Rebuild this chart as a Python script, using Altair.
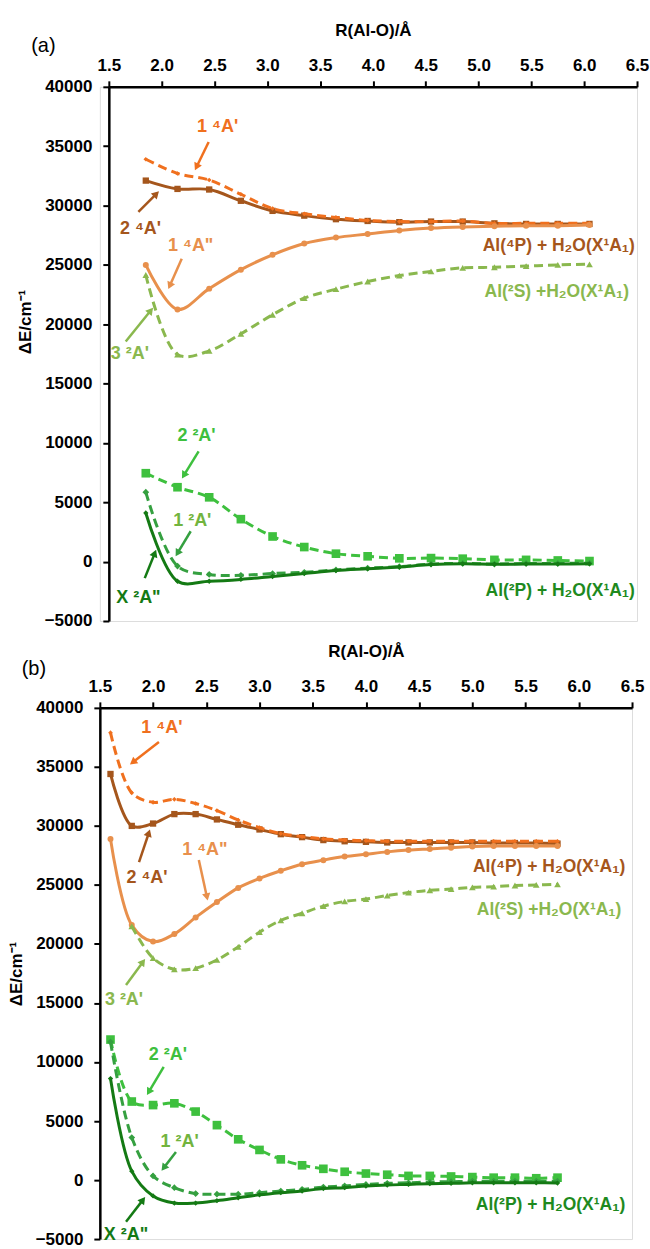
import math
import altair as alt
import pandas as pd

FONT = "Liberation Sans"

# ---------------- data: panel (a) ----------------
R_a = [1.85, 2.15, 2.45, 2.75, 3.05, 3.35, 3.65, 3.95, 4.25, 4.55, 4.85, 5.15, 5.45, 5.75, 6.05]
a_1_4Ap = [33900, 32700, 32150, 30950, 29750, 29300, 29000, 28750, 28650, 28650, 28700, 28500, 28500, 28500, 28500]
a_2_4Ap = [32100, 31400, 31350, 30400, 29550, 29150, 28850, 28700, 28600, 28650, 28650, 28500, 28450, 28450, 28450]
a_1_4App = [25000, 21250, 23000, 24600, 25850, 26800, 27300, 27600, 27900, 28100, 28200, 28250, 28300, 28300, 28350]
a_3_2Ap = [24150, 17450, 17750, 19200, 20800, 22200, 22950, 23600, 24100, 24450, 24750, 24800, 24900, 25000, 25050]
a_2_2Ap = [7450, 6270, 5420, 3580, 2120, 1230, 670, 450, 280, 300, 250, 150, 150, 100, 50]
a_1_2Ap = [5850, -370, -1080, -1150, -1000, -900, -700, -550, -420, -200, -150, -200, -150, -150, -120]
a_X_2App = [4100, -1650, -1650, -1500, -1250, -1000, -750, -600, -450, -250, -180, -220, -200, -200, -180]

# ---------------- data: panel (b) ----------------
R_b = [1.6, 1.8, 2.0, 2.2, 2.4, 2.6, 2.8, 3.0, 3.2, 3.4, 3.6, 3.8, 4.0, 4.2, 4.4, 4.6, 4.8, 5.0, 5.2, 5.4, 5.6, 5.8]
R_b_3_2Ap = [1.8, 2.0, 2.2, 2.4, 2.6, 2.8, 3.0, 3.2, 3.4, 3.6, 3.8, 4.0, 4.2, 4.4, 4.6, 4.8, 5.0, 5.2, 5.4, 5.6, 5.8]
b_1_4Ap = [37900, 32800, 32000, 32250, 31900, 31300, 30500, 29850, 29350, 29100, 28900, 28800, 28750, 28700, 28700, 28700, 28700, 28700, 28700, 28700, 28700, 28700]
b_2_4Ap = [34400, 30000, 30200, 31000, 31000, 30550, 30100, 29700, 29300, 29050, 28800, 28700, 28650, 28600, 28600, 28600, 28600, 28600, 28550, 28550, 28550, 28500]
b_1_4App = [28900, 21600, 20200, 20850, 22250, 23550, 24750, 25550, 26200, 26750, 27100, 27400, 27600, 27800, 27950, 28050, 28150, 28250, 28300, 28300, 28300, 28300]
b_3_2Ap = [21500, 18800, 17850, 17950, 18650, 19750, 21000, 22000, 22600, 23200, 23600, 23800, 24100, 24350, 24550, 24650, 24800, 24850, 24950, 25000, 25050]
b_2_2Ap = [11900, 6650, 6350, 6500, 5800, 4650, 3450, 2550, 1750, 1250, 950, 700, 550, 450, 350, 350, 300, 250, 200, 200, 150, 200]
b_1_2Ap = [11700, 3600, 350, -650, -1150, -1200, -1200, -1070, -930, -790, -600, -500, -370, -280, -230, -170, -140, -100, -100, -100, -100, -100]
b_X_2App = [8600, 750, -1350, -1950, -1950, -1750, -1500, -1250, -1070, -930, -720, -650, -510, -420, -370, -310, -280, -240, -230, -230, -230, -260]

X_TICKS = [1.5, 2.0, 2.5, 3.0, 3.5, 4.0, 4.5, 5.0, 5.5, 6.0, 6.5]
Y_TICKS = [-5000, 0, 5000, 10000, 15000, 20000, 25000, 30000, 35000, 40000]

# state labels (text, x, y) and arrows (x1, y1, x2, y2) in data units
a_lab_text = ["1 ⁴A'", "2 ⁴A'", "1 ⁴A\"", "3 ²A'", "2 ²A'", "1 ²A'", "X ²A\""]
a_lab_x = [2.53, 1.80, 2.275, 1.70, 2.33, 2.29, 1.78]
a_lab_y = [36600, 28000, 26600, 17500, 10550, 3400, -3100]
a_arr_x1 = [2.445, 1.78, 2.19, 1.66, 2.35, 2.275, 1.84]
a_arr_y1 = [35350, 29470, 25510, 18540, 9290, 2560, -1390]
a_arr_x2 = [2.33, 1.95, 2.077, 1.897, 2.21, 2.15, 1.935]
a_arr_y2 = [33250, 30980, 23240, 21150, 7270, 710, 710]
a_asym_text = ["Al(⁴P) + H₂O(X¹A₁)", "Al(²S) +H₂O(X¹A₁)", "Al(²P) + H₂O(X¹A₁)"]
a_asym_x = [6.48, 6.425, 6.48]
a_asym_y = [26600, 22750, -2450]

b_lab_text = ["1 ⁴A'", "2 ⁴A'", "1 ⁴A\"", "3 ²A'", "2 ²A'", "1 ²A'", "X ²A\""]
b_lab_x = [2.083, 1.943, 2.487, 1.727, 2.14, 2.25, 1.746]
b_lab_y = [38280, 25590, 27960, 15260, 10600, 3230, -4640]
b_arr_x1 = [2.055, 1.868, 2.43, 1.746, 2.10, 2.215, 1.746]
b_arr_y1 = [37100, 26940, 27110, 16530, 9580, 2380, -3540]
b_arr_x2 = [1.81, 1.96, 2.506, 1.905, 1.96, 2.10, 1.905]
b_arr_y2 = [35400, 29400, 23980, 18480, 7460, 1030, -1680]
b_asym_text = ["Al(⁴P) + H₂O(X¹A₁)", "Al(²S) +H₂O(X¹A₁)", "Al(²P) + H₂O(X¹A₁)"]
b_asym_x = [6.436, 6.40, 6.436]
b_asym_y = [26520, 22880, -2100]

tag_text = ["(a)", "(b)"]
tag_x = [0.88, 0.88]
tag_y = [43400, 43300]

# ---------------- styles ----------------
STYLE = {
    "1 ⁴A'":  dict(color="#F0701E", dash=True,  shape="diamond", size=22, label="#F0701E"),
    "2 ⁴A'":  dict(color="#A5561C", dash=False, shape="square",  size=40, label="#A5561C"),
    "1 ⁴A\"": dict(color="#E8904C", dash=False, shape="circle",  size=36, label="#E8904C"),
    "3 ²A'":  dict(color="#8AB84E", dash=True,  shape="triangle-up", size=45, label="#8AB84E"),
    "2 ²A'":  dict(color="#3EC03E", dash=True,  shape="square",  size=75, label="#3EC03E"),
    "1 ²A'":  dict(color="#35A040", dash=True,  shape="diamond", size=45, label="#72B43E"),
    "X ²A\"": dict(color="#147A14", dash=False, shape="diamond", size=28, label="#147A14"),
}
ASYM_COLORS = ["#A5561C", "#8AB84E", "#1E8A1E"]


def make_panel(idx, series, lab, arrows, asym, plot_w, plot_h, shift, title_y=None):
    sx = plot_w / 5.0
    sy = plot_h / 45000.0
    xs = alt.Scale(domain=[1.5, 6.5], range=[shift, shift + plot_w], nice=False, zero=False)
    ys = alt.Scale(domain=[-5000, 40000], nice=False, zero=False)
    xaxis = alt.Axis(orient="top", values=X_TICKS, format=".1f", title="R(Al-O)/Å",
                     grid=False, labelFont=FONT, labelFontSize=17, labelFontWeight="bold",
                     labelColor="black", titleFont=FONT, titleFontSize=17, titleFontWeight="bold",
                     titleColor="black", domainColor="black", domainWidth=2.5, tickColor="black",
                     tickWidth=2, tickSize=6, labelPadding=6, titlePadding=17, labelFlush=False)
    ykw = dict(values=Y_TICKS, format="d", title="ΔE/cm⁻¹", grid=False, offset=-shift,
               labelFont=FONT, labelFontSize=17, labelFontWeight="bold", labelColor="black",
               titleFont=FONT, titleFontSize=17, titleFontWeight="bold", titleColor="black",
               domainColor="black", domainWidth=2.5, tickColor="black", tickWidth=2,
               tickSize=6, labelPadding=11, titlePadding=10)
    if title_y is not None:
        ykw["titleY"] = title_y
    yaxis = alt.Axis(**ykw)
    X = lambda f: alt.X(f, type="quantitative", scale=xs, axis=xaxis)
    Y = lambda f: alt.Y(f, type="quantitative", scale=ys, axis=yaxis)

    layers = []
    for name, rs, es in series:
        st = STYLE[name]
        df = pd.DataFrame({"R": rs, "E": es})
        line_kw = dict(color=st["color"], strokeWidth=3, interpolate="catmull-rom")
        if st["dash"]:
            line_kw["strokeDash"] = [9, 5]
        layers.append(alt.Chart(df).mark_line(**line_kw).encode(x=X("R"), y=Y("E")))
        layers.append(alt.Chart(df).mark_point(filled=True, opacity=1, shape=st["shape"],
                                               size=st["size"], color=st["color"])
                      .encode(x=X("R"), y=Y("E")))

    # arrows
    x1, y1, x2, y2 = arrows
    ang = []
    for a, b, c, d in zip(x1, y1, x2, y2):
        ang.append(math.degrees(math.atan2((c - a) * sx, (d - b) * sy)) % 360)
    adf = pd.DataFrame({"x1": x1, "y1": y1, "x2": x2, "y2": y2, "ang": ang,
                        "col": [STYLE[n]["color"] for n in lab[0]]})
    layers.append(alt.Chart(adf).mark_rule(strokeWidth=2.5).encode(
        x=X("x1"), y=Y("y1"), x2="x2", y2="y2", color=alt.Color("col:N", scale=None)))
    layers.append(alt.Chart(adf).mark_point(shape="triangle-up", filled=True, opacity=1, size=70).encode(
        x=X("x2"), y=Y("y2"), angle=alt.Angle("ang:Q", scale=None), color=alt.Color("col:N", scale=None)))

    # state labels
    ldf = pd.DataFrame({"t": lab[0], "x": lab[1], "y": lab[2],
                        "col": [STYLE[n]["label"] for n in lab[0]]})
    layers.append(alt.Chart(ldf).mark_text(font=FONT, fontSize=18, fontWeight="bold", align="center",
                                           baseline="middle").encode(
        x=X("x"), y=Y("y"), text="t:N", color=alt.Color("col:N", scale=None)))
    # asymptote labels
    sdf = pd.DataFrame({"t": asym[0], "x": asym[1], "y": asym[2], "col": ASYM_COLORS})
    layers.append(alt.Chart(sdf).mark_text(font=FONT, fontSize=17.5, fontWeight="bold", align="right",
                                           baseline="middle").encode(
        x=X("x"), y=Y("y"), text="t:N", color=alt.Color("col:N", scale=None)))
    # panel tag
    tdf = pd.DataFrame({"t": [tag_text[idx]], "x": [tag_x[idx]], "y": [tag_y[idx]]})
    layers.append(alt.Chart(tdf).mark_text(font=FONT, fontSize=20, align="center", baseline="middle",
                                           color="black").encode(x=X("x"), y=Y("y"), text="t:N"))

    return alt.layer(*layers).properties(width=shift + plot_w, height=plot_h)


panel_a = make_panel(
    0,
    [("2 ⁴A'", R_a, a_2_4Ap), ("1 ⁴A'", R_a, a_1_4Ap), ("1 ⁴A\"", R_a, a_1_4App),
     ("3 ²A'", R_a, a_3_2Ap), ("2 ²A'", R_a, a_2_2Ap), ("1 ²A'", R_a, a_1_2Ap), ("X ²A\"", R_a, a_X_2App)],
    (a_lab_text, a_lab_x, a_lab_y), (a_arr_x1, a_arr_y1, a_arr_x2, a_arr_y2),
    (a_asym_text, a_asym_x, a_asym_y), 529, 535, 9, title_y=235)

panel_b = make_panel(
    1,
    [("2 ⁴A'", R_b, b_2_4Ap), ("1 ⁴A'", R_b, b_1_4Ap), ("1 ⁴A\"", R_b, b_1_4App),
     ("3 ²A'", R_b_3_2Ap, b_3_2Ap), ("2 ²A'", R_b, b_2_2Ap), ("1 ²A'", R_b, b_1_2Ap), ("X ²A\"", R_b, b_X_2App)],
    (b_lab_text, b_lab_x, b_lab_y), (b_arr_x1, b_arr_y1, b_arr_x2, b_arr_y2),
    (b_asym_text, b_asym_x, b_asym_y), 533, 532, 0)

chart = alt.vconcat(panel_a, panel_b, spacing=12).properties(
    padding={"left": 6, "top": 20, "right": 0, "bottom": 0}
).configure_view(stroke=None).configure(background="white")

chart.save("out.html", embed_options={"renderer": "svg", "actions": False})
